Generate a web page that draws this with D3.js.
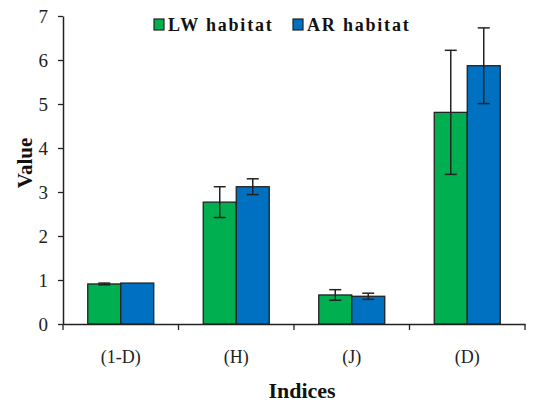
<!DOCTYPE html>
<html>
<head>
<meta charset="utf-8">
<script src="https://cdn.jsdelivr.net/npm/d3@7"></script>
<style>
  body { margin: 0; background: #fff; }
  text { font-family: "Liberation Serif", "Times New Roman", serif; }
</style>
</head>
<body>
<div id="chart"></div>
<script>
// indices and the two habitats
const categories = ['(1-D)', '(H)', '(J)', '(D)']
const series = ['LW habitat', 'AR habitat']
const lwValues = [0.91, 2.77, 0.66, 4.81]
const lwErrors = [0.02, 0.35, 0.12, 1.41]
const arValues = [0.93, 3.12, 0.63, 5.87]
const arErrors = [0.0, 0.18, 0.07, 0.86]
const yTicks = [0, 1, 2, 3, 4, 5, 6, 7]

const width = 540, height = 403
const margin = {top: 16, right: 15, bottom: 79, left: 63}
const serif = '"Liberation Serif", "Times New Roman", serif'

const colors = d3.scaleOrdinal().domain(series).range(['#00b050', '#0070c0'])

const svg = d3.select('#chart').append('svg')
    .attr('width', width)
    .attr('height', height)

const x = d3.scaleBand()
    .domain(categories)
    .range([margin.left, width - margin.right])

const xInner = d3.scaleBand()
    .domain(series)
    .range([0, 66])

const y = d3.scaleLinear()
    .domain([0, 7])
    .range([height - margin.bottom, margin.top])

// build rows for drawing
let rows = []
categories.forEach(function (c, i) {
    rows.push({cat: c, s: series[0], v: lwValues[i], e: lwErrors[i]})
    rows.push({cat: c, s: series[1], v: arValues[i], e: arErrors[i]})
})

const barX = d => x(d.cat) + (x.bandwidth() - 66) / 2 + xInner(d.s)

svg.append('g')
    .selectAll('rect')
    .data(rows)
    .enter()
    .append('rect')
    .attr('x', barX)
    .attr('y', d => y(d.v))
    .attr('width', xInner.bandwidth())
    .attr('height', d => y(0) - y(d.v))
    .attr('fill', d => colors(d.s))
    .attr('stroke', '#222')
    .attr('stroke-width', 1.3)

// error bars
let eb = svg.append('g')
    .selectAll('g')
    .data(rows.filter(d => d.e > 0))
    .enter()
    .append('g')
    .attr('stroke', '#222')
    .attr('stroke-width', 1.5)

const cx = d => barX(d) + xInner.bandwidth() / 2
eb.append('line')
    .attr('x1', cx).attr('x2', cx)
    .attr('y1', d => y(d.v + d.e)).attr('y2', d => y(d.v - d.e))
eb.append('line')
    .attr('x1', d => cx(d) - 6).attr('x2', d => cx(d) + 6)
    .attr('y1', d => y(d.v + d.e)).attr('y2', d => y(d.v + d.e))
eb.append('line')
    .attr('x1', d => cx(d) - 6).attr('x2', d => cx(d) + 6)
    .attr('y1', d => y(d.v - d.e)).attr('y2', d => y(d.v - d.e))

// y axis
const yAxis = svg.append('g')
    .attr('transform', `translate(${margin.left},0)`)
    .call(d3.axisLeft(y).tickValues(yTicks).tickFormat(d3.format('d'))
        .tickSize(5).tickPadding(10).tickSizeOuter(0))
yAxis.attr('font-family', null)
yAxis.select('.domain').attr('stroke', '#222').attr('stroke-width', 1.5)
yAxis.selectAll('.tick line').attr('stroke', '#222').attr('stroke-width', 1.3)
yAxis.selectAll('.tick text')
    .style('font-family', serif)
    .style('font-size', '19px')
    .attr('fill', '#222')

// x axis
const xAxis = svg.append('g')
    .attr('transform', `translate(0,${y(0)})`)
    .call(d3.axisBottom(x).tickSize(0).tickPadding(26))
xAxis.attr('font-family', null)
xAxis.select('.domain').attr('stroke', '#222').attr('stroke-width', 1.5)
xAxis.selectAll('.tick text')
    .style('font-family', serif)
    .style('font-size', '18px')
    .attr('fill', '#222')
// ticks between categories
xAxis.selectAll('.sep')
    .data(categories.concat(['end']))
    .enter()
    .append('line')
    .attr('class', 'sep')
    .attr('x1', (d, i) => i < categories.length ? x(d) : width - margin.right)
    .attr('x2', (d, i) => i < categories.length ? x(d) : width - margin.right)
    .attr('y1', 0).attr('y2', 6)
    .attr('stroke', '#222').attr('stroke-width', 1.3)

// axis titles
svg.append('text')
    .attr('x', 302).attr('y', 398)
    .attr('text-anchor', 'middle')
    .style('font-size', '22px').style('font-weight', 'bold')
    .attr('fill', '#111')
    .text('Indices')

svg.append('text')
    .attr('transform', 'translate(32,163) rotate(-90)')
    .attr('text-anchor', 'middle')
    .style('font-size', '21px').style('font-weight', 'bold')
    .attr('fill', '#111')
    .text('Value')

// legend
const legendX = [154, 293]
let lg = svg.append('g')
    .selectAll('g')
    .data(series)
    .enter()
    .append('g')
    .attr('transform', (d, i) => `translate(${legendX[i]},19)`)
lg.append('rect')
    .attr('width', 10).attr('height', 11)
    .attr('fill', d => colors(d))
    .attr('stroke', '#222').attr('stroke-width', 1.2)
lg.append('text')
    .attr('x', 14).attr('y', 12)
    .style('font-size', '18px').style('font-weight', 'bold')
    .style('letter-spacing', '1.8px')
    .attr('fill', '#111')
    .text(d => d)
</script>
</body>
</html>
